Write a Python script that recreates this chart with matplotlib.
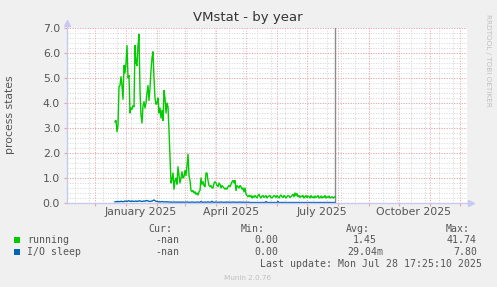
import matplotlib
matplotlib.use("Agg")
import matplotlib.pyplot as plt
import matplotlib.dates as mdates
import pandas as pd
import numpy as np

# ---------------- data ----------------
start_date = "2024-12-21"
running = [
    3.25, 3.3, 2.85, 3.1, 4.65, 4.7, 5.05, 4.7, 4.15, 5.5,
    5.2, 5.6, 6.3, 5.0, 5.1, 3.6, 3.8, 3.75, 3.9, 3.85,
    6.3, 5.6, 5.5, 6.3, 6.75, 4.5, 3.5, 3.2, 3.9, 4.05,
    3.8, 4.0, 4.4, 4.7, 4.1, 4.6, 5.3, 5.8, 6.05, 5.0,
    4.2, 3.95, 4.0, 4.2, 3.6, 3.8, 3.4, 3.7, 3.3, 4.5,
    4.2, 3.6, 4.0, 3.85, 2.9, 1.8, 0.8, 0.95, 1.2, 0.55,
    0.9, 1.0, 0.75, 1.45, 1.1, 0.8, 1.0, 1.25, 1.0, 1.05,
    1.3, 1.1, 1.5, 1.95, 1.1, 0.9, 0.5, 0.45, 0.5, 0.4,
    0.45, 0.35, 0.4, 0.32, 0.45, 0.5, 1.0, 0.75, 0.85, 0.7,
    0.65, 1.2, 1.2, 0.9, 0.7, 0.65, 0.7, 0.6, 0.6, 0.8,
    0.85, 0.8, 0.7, 0.65, 0.8, 0.75, 0.6, 0.7, 0.65, 0.6,
    0.55, 0.6, 0.55, 0.65, 0.7, 0.65, 0.75, 0.85, 0.9, 0.8,
    0.9, 0.5, 0.7, 0.65, 0.6, 0.7, 0.65, 0.55, 0.6, 0.45,
    0.6, 0.35, 0.3, 0.25, 0.3,
    0.25, 0.3, 0.2, 0.28, 0.22, 0.3, 0.25, 0.2, 0.3, 0.35,
    0.25, 0.2, 0.28, 0.3, 0.22, 0.25, 0.3, 0.2, 0.25, 0.28,
    0.3, 0.22, 0.2, 0.25, 0.3, 0.28, 0.22, 0.3, 0.25, 0.2,
    0.28, 0.32, 0.25, 0.22, 0.3, 0.26, 0.2, 0.25, 0.3, 0.28,
    0.22, 0.25, 0.3, 0.35, 0.25, 0.4, 0.3, 0.38, 0.25, 0.3,
    0.22, 0.28, 0.25, 0.3, 0.2, 0.25, 0.3, 0.22, 0.28, 0.25,
    0.2, 0.3, 0.22, 0.25, 0.2, 0.28, 0.22, 0.25, 0.3, 0.2,
    0.22, 0.28, 0.2, 0.25, 0.22, 0.3, 0.2, 0.25, 0.22, 0.28,
    0.2, 0.22, 0.25, 0.2, 0.22, 0.25,
]
io_sleep = [
    0.05, 0.05, 0.06, 0.05, 0.06, 0.05, 0.07, 0.06, 0.05, 0.06,
    0.08, 0.07, 0.06, 0.08, 0.09, 0.07, 0.06, 0.08, 0.07, 0.06,
    0.07, 0.08, 0.06, 0.07, 0.09, 0.08, 0.07, 0.06, 0.07, 0.08,
    0.07, 0.09, 0.1, 0.08, 0.07, 0.06, 0.07, 0.08, 0.1, 0.12,
    0.09, 0.07, 0.06, 0.05, 0.05, 0.04, 0.05, 0.06, 0.05, 0.04,
    0.05, 0.04, 0.05, 0.04, 0.04, 0.03, 0.04, 0.03, 0.03, 0.04,
    0.03, 0.04, 0.03, 0.03, 0.04, 0.03, 0.03, 0.03, 0.04, 0.03,
    0.03, 0.03, 0.04, 0.03, 0.03, 0.03, 0.03, 0.04, 0.03, 0.03,
    0.03, 0.03, 0.03, 0.04, 0.03, 0.03, 0.06, 0.03, 0.03, 0.03,
    0.04, 0.03, 0.03, 0.05, 0.03, 0.03, 0.03, 0.07, 0.03, 0.03,
    0.03, 0.04, 0.03, 0.03, 0.03, 0.03, 0.04, 0.03, 0.03, 0.03,
    0.03, 0.03, 0.04, 0.03, 0.03, 0.03, 0.03, 0.03, 0.04, 0.03,
    0.03, 0.03, 0.03, 0.03, 0.03, 0.04, 0.03, 0.03, 0.03, 0.03,
    0.03, 0.03, 0.03, 0.03, 0.03,
    0.02, 0.02, 0.02, 0.02, 0.02, 0.02, 0.02, 0.02, 0.02, 0.02,
    0.02, 0.02, 0.02, 0.02, 0.02, 0.02, 0.06, 0.02, 0.02, 0.02,
    0.02, 0.02, 0.02, 0.02, 0.02, 0.02, 0.02, 0.02, 0.06, 0.02,
    0.02, 0.02, 0.02, 0.02, 0.02, 0.02, 0.02, 0.02, 0.02, 0.02,
    0.02, 0.02, 0.02, 0.02, 0.02, 0.02, 0.02, 0.02, 0.02, 0.02,
    0.02, 0.02, 0.02, 0.02, 0.02, 0.02, 0.02, 0.02, 0.02, 0.02,
    0.02, 0.02, 0.02, 0.02, 0.02, 0.02, 0.02, 0.02, 0.02, 0.02,
    0.02, 0.02, 0.02, 0.02, 0.02, 0.02, 0.02, 0.02, 0.02, 0.02,
    0.02, 0.02, 0.02, 0.02, 0.02, 0.02,
]
series_names = ["running", "I/O sleep"]
cur_vals = ["-nan", "-nan"]
min_vals = ["0.00", "0.00"]
avg_vals = ["1.45", "29.04m"]
max_vals = ["41.74", "7.80"]
x_labels = ["January 2025", "April 2025", "July 2025", "October 2025"]
x_label_dates = ["2025-01-16", "2025-04-16", "2025-07-16", "2025-10-16"]
last_update = "Last update: Mon Jul 28 17:25:10 2025"
now_marker = "2025-07-28 17:25"
x_range = ["2024-11-03", "2025-12-08"]

# ---------------- figure ----------------
W, H = 497, 287
fig = plt.figure(figsize=(W / 100, H / 100), dpi=100, facecolor="#F0F0F0")
L, R, T, B = 67, 467, 28, 203
ax = fig.add_axes([L / W, 1 - B / H, (R - L) / W, (B - T) / H])
ax.set_facecolor("#FFFFFF")

dates = pd.date_range(start_date, periods=len(running), freq="D")
ax.set_xlim(pd.Timestamp(x_range[0]), pd.Timestamp(x_range[1]))
ax.set_ylim(0, 7)

mgrid = "#EFA0A0"
ngrid = "#D4D4D4"
dot = (0, (1, 1.6))

# minor vertical grid (bi-weekly)
for d in pd.date_range("2024-11-11", x_range[1], freq="14D"):
    ax.axvline(d, color=ngrid, lw=0.7, ls=dot, zorder=0.5)
# minor horizontal grid
for yv in np.arange(0, 7.01, 0.2):
    ax.axhline(yv, color=ngrid, lw=0.7, ls=dot, zorder=0.5)
# major grid
ax.xaxis.set_major_locator(mdates.MonthLocator())
ax.xaxis.set_major_formatter(plt.NullFormatter())
ax.set_yticks(np.arange(0, 7.01, 1.0))
ax.set_yticklabels([f"{v:.1f}" for v in np.arange(0, 7.01, 1.0)])
ax.xaxis.grid(True, which="major", color=mgrid, lw=0.7, ls=dot, zorder=0.6)
ax.yaxis.grid(True, which="major", color=mgrid, lw=0.7, ls=dot, zorder=0.6)
ax.set_axisbelow(True)

ax.set_xticks(pd.to_datetime(x_label_dates), minor=True)
ax.set_xticklabels(x_labels, minor=True)
ax.tick_params(axis="x", which="major", length=2, color=mgrid)
ax.tick_params(axis="x", which="minor", length=0, pad=3, labelsize=7.8, labelcolor="#555555")
ax.tick_params(axis="y", which="major", length=2, color=mgrid, pad=3, labelsize=7.8, labelcolor="#555555")

for s in ax.spines.values():
    s.set_visible(False)

# data
ax.plot(dates, running, color="#00CC00", lw=1.0, zorder=3)
ax.plot(dates, io_sleep, color="#0066B3", lw=1.0, zorder=3)
ax.axvline(pd.Timestamp(now_marker), color="#8A8A8A", lw=1.0, zorder=2)

# axes lines with arrows
axc = "#C8C8F0"
ax.plot([0, 0], [0, 1 + 5 / 175], transform=ax.transAxes, color=axc, lw=1, clip_on=False, zorder=4)
ax.plot([0, 1 + 3 / 400], [0, 0], transform=ax.transAxes, color=axc, lw=1, clip_on=False, zorder=4)
ax.plot([0], [1 + 5 / 175], transform=ax.transAxes, marker="^", color=axc, ms=4.5, clip_on=False, zorder=4)
ax.plot([1 + 4 / 400], [0], transform=ax.transAxes, marker=">", color=axc, ms=4.5, clip_on=False, zorder=4)

# texts
fig.text(248 / W, 1 - 17 / H, "VMstat - by year", ha="center", va="center", fontsize=9.5, color="#333333")
fig.text(10 / W, 1 - 115 / H, "process states", ha="center", va="center", rotation=90, fontsize=7.8, color="#555555")
fig.text(488 / W, 1 - 60 / H, "RRDTOOL / TOBI OETIKER", ha="center", va="center", rotation=270,
         fontsize=5.2, color="#C0C0C0")
fig.text(248 / W, 1 - 278 / H, "Munin 2.0.76", ha="center", va="center", fontsize=5.2, color="#C0C0C0")

mono = dict(family="DejaVu Sans Mono", fontsize=7.1, color="#555555", va="center")
y_head, y_rows, y_last = 229, [240, 252], 264
for txt, xr in [("Cur:", 172), ("Min:", 265), ("Avg:", 370), ("Max:", 470)]:
    fig.text(xr / W, 1 - y_head / H, txt, ha="right", **mono)
colors = ["#00CC00", "#0066B3"]
for i, name in enumerate(series_names):
    yy = 1 - y_rows[i] / H
    fig.patches.append(plt.Rectangle((14 / W, yy - 3 / H), 6 / W, 6 / H, transform=fig.transFigure,
                                     facecolor=colors[i], edgecolor="none"))
    fig.text(27 / W, yy, name, ha="left", **mono)
    fig.text(179 / W, yy, cur_vals[i], ha="right", **mono)
    fig.text(278 / W, yy, min_vals[i], ha="right", **mono)
    fig.text((377 if i == 0 else 383) / W, yy, avg_vals[i], ha="right", **mono)
    fig.text(477 / W, yy, max_vals[i], ha="right", **mono)
fig.text(482 / W, 1 - y_last / H, last_update, ha="right", **mono)

fig.savefig("out.png", dpi=100, facecolor=fig.get_facecolor())
